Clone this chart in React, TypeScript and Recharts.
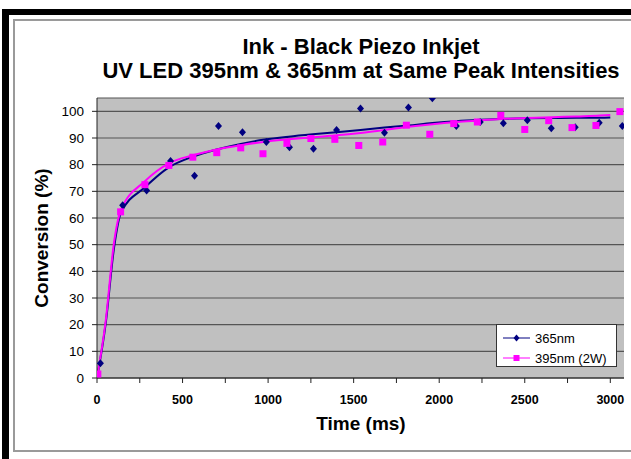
import React from 'react';
import { ComposedChart, XAxis, YAxis, CartesianGrid, Scatter, Line, Legend } from 'recharts';

const FONT = '"Liberation Sans", Arial, Helvetica, sans-serif';

const titleLines = ['Ink - Black Piezo Inkjet', 'UV LED 395nm & 365nm at Same Peak Intensities'];
const xTitle = 'Time (ms)';
const yTitle = 'Conversion (%)';
const seriesNames = ['365nm', '395nm (2W)'];

const xTicks = [0, 250, 500, 750, 1000, 1250, 1500, 1750, 2000, 2250, 2500, 2750, 3000];
const yTicks = [0, 10, 20, 30, 40, 50, 60, 70, 80, 90, 100];

// measured points
const time365 = [20, 150, 290, 430, 570, 710, 850, 990, 1125, 1265, 1400, 1540, 1680, 1820, 1960, 2100, 2240, 2375, 2515, 2655, 2795, 2935, 3070];
const conv365 = [5.5, 64.8, 70.3, 81.4, 75.8, 94.5, 92.2, 88.5, 86.5, 86.0, 93.0, 101.1, 92.0, 101.4, 104.9, 94.5, 96.0, 95.5, 96.7, 93.7, 94.0, 95.7, 94.5];

const time395 = [5, 138, 280, 420, 560, 700, 840, 970, 1110, 1250, 1390, 1530, 1670, 1808, 1945, 2085, 2223, 2360, 2500, 2640, 2776, 2916, 3056];
const conv395 = [1.5, 62.3, 72.5, 79.7, 82.8, 84.5, 86.3, 84.1, 88.0, 89.8, 89.5, 87.2, 88.5, 94.8, 91.4, 95.4, 96.0, 98.5, 93.2, 96.5, 93.9, 94.7, 99.9];

// fitted curves
const fitTime = [0, 50, 100, 140, 280, 420, 560, 700, 840, 980, 1120, 1260, 1400, 1540, 1680, 1820, 1960, 2100, 2240, 2380, 2520, 2660, 2800, 2940, 3000];
const fit365 = [0, 20, 49, 62, 71.5, 79, 83, 85.7, 87.8, 89.4, 90.5, 91.4, 92.2, 93, 93.9, 94.7, 95.6, 96.3, 96.8, 97.2, 97.4, 97.5, 97.6, 97.6, 97.7];
const fit395 = [0, 21, 51, 63, 73.8, 80.5, 83.5, 85.7, 87.3, 88.6, 89.5, 90.3, 91, 91.9, 93, 94.2, 95.2, 96, 96.6, 97.2, 97.5, 97.8, 98.1, 98.4, 98.6];

const pts365 = time365.map((x, i) => ({ x, y: conv365[i] }));
const pts395 = time395.map((x, i) => ({ x, y: conv395[i] }));
const line365 = fitTime.map((x, i) => ({ x, y: fit365[i] }));
const line395 = fitTime.map((x, i) => ({ x, y: fit395[i] }));

const NAVY = '#000080';
const MAGENTA = '#ff00ff';

const Diamond = (p: any) => {
  const { cx, cy } = p;
  if (cx == null || cy == null) return <g />;
  return <path d={`M${cx},${cy - 4} L${cx + 3.5},${cy} L${cx},${cy + 4} L${cx - 3.5},${cy} Z`} fill={NAVY} />;
};
const Square = (p: any) => {
  const { cx, cy } = p;
  if (cx == null || cy == null) return <g />;
  return <rect x={cx - 3.5} y={cy - 3.5} width={7} height={7} fill={MAGENTA} />;
};

const renderLegend = () => (
  <div style={{ width: 119, height: 41, border: '1px solid #333', background: '#fff', fontFamily: FONT, fontSize: 13, color: '#000', position: 'relative' }}>
    {seriesNames.map((name, i) => (
      <div key={name} style={{ position: 'absolute', left: 6, top: 4 + i * 20, height: 18, display: 'flex', alignItems: 'center' }}>
        <svg width={28} height={10} style={{ marginRight: 4 }}>
          <line x1={0} y1={5} x2={27} y2={5} stroke={i === 0 ? NAVY : MAGENTA} strokeWidth={1} />
          {i === 0 ? (
            <path d="M13.5,1.5 L16.5,5 L13.5,8.5 L10.5,5 Z" fill={NAVY} />
          ) : (
            <rect x={10.5} y={2} width={6} height={6} fill={MAGENTA} />
          )}
        </svg>
        <span>{name}</span>
      </div>
    ))}
  </div>
);

export default function App() {
  return (
    <div style={{ position: 'absolute', left: 0, top: 0, width: 631, height: 459, background: '#fff', overflow: 'hidden', fontFamily: FONT }}>
      {/* frame */}
      <div style={{ position: 'absolute', left: 2, top: 9, width: 629, height: 6, background: '#000' }} />
      <div style={{ position: 'absolute', left: 2, top: 9, width: 7, height: 450, background: '#000' }} />
      <div style={{ position: 'absolute', left: 13, top: 19, width: 640, height: 433, border: '2px solid #9a9a9a', boxSizing: 'border-box' }} />

      <div style={{ position: 'absolute', left: 0, top: 0 }}>
        <ComposedChart width={631} height={459} margin={{ top: 98, right: 7, bottom: 51, left: 37 }}>
          <CartesianGrid vertical={false} fill="#c0c0c0" stroke="#555" strokeWidth={1.2} />
          <XAxis
            type="number"
            dataKey="x"
            domain={[0, 3080]}
            ticks={xTicks}
            allowDataOverflow
            height={30}
            tickSize={5}
            tickMargin={12}
            interval={0}
            tickFormatter={(v: number) => (v % 500 === 0 ? String(v) : '')}
            tick={{ fill: '#000', fontSize: 12.5, fontWeight: 'bold', fontFamily: FONT }}
            axisLine={{ stroke: '#222' }}
            tickLine={{ stroke: '#222' }}
          />
          <YAxis
            type="number"
            dataKey="y"
            domain={[0, 105]}
            ticks={yTicks}
            allowDataOverflow
            width={60}
            tickSize={5}
            tickMargin={8}
            interval={0}
            tick={{ fill: '#000', fontSize: 13.5, fontFamily: FONT }}
            axisLine={{ stroke: '#222' }}
            tickLine={{ stroke: '#222' }}
          />
          <Line data={line365} dataKey="y" type="monotone" stroke={NAVY} strokeWidth={2} dot={false} activeDot={false} legendType="none" isAnimationActive={false} />
          <Line data={line395} dataKey="y" type="monotone" stroke={MAGENTA} strokeWidth={2} dot={false} activeDot={false} legendType="none" isAnimationActive={false} />
          <Scatter name={seriesNames[0]} data={pts365} fill={NAVY} shape={Diamond} isAnimationActive={false} />
          <Scatter name={seriesNames[1]} data={pts395} fill={MAGENTA} shape={Square} isAnimationActive={false} />
          <Legend layout="vertical" align="center" verticalAlign="middle" content={renderLegend} wrapperStyle={{ left: 496, top: 324, width: 121, height: 43 }} />
        </ComposedChart>
      </div>

      {/* titles */}
      <div style={{ position: 'absolute', left: 0, width: 722, top: 35, textAlign: 'center', fontSize: 22, fontWeight: 'bold', lineHeight: '24px', color: '#000', whiteSpace: 'nowrap' }}>
        {titleLines.map((t) => (
          <div key={t}>{t}</div>
        ))}
      </div>
      <div style={{ position: 'absolute', left: 261, width: 200, top: 413, textAlign: 'center', fontSize: 19, fontWeight: 'bold', lineHeight: '22px', color: '#000' }}>{xTitle}</div>
      <div style={{ position: 'absolute', left: 42 - 100, top: 238 - 11, width: 200, height: 22, textAlign: 'center', fontSize: 19, fontWeight: 'bold', lineHeight: '22px', color: '#000', transform: 'rotate(-90deg)', transformOrigin: '50% 50%' }}>{yTitle}</div>
    </div>
  );
}
